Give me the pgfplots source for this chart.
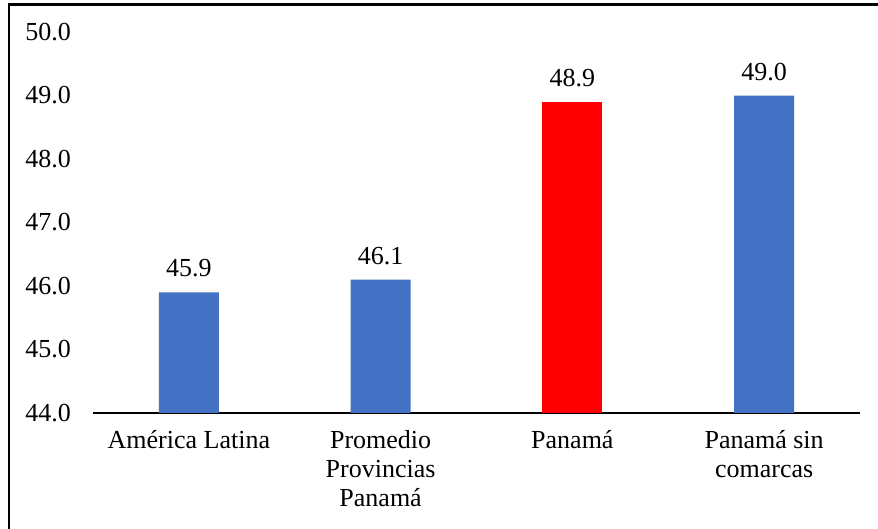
\documentclass[border=0pt]{standalone}
\usepackage{pgfplots}
\pgfplotsset{compat=1.18}
\usepackage{fontspec}
\setmainfont{Liberation Serif}
\definecolor{barblue}{HTML}{4472C4}
\definecolor{barred}{HTML}{FF0000}
\begin{document}
\fontsize{13}{14.5}\selectfont
\begin{tikzpicture}
\useasboundingbox (0,0) rectangle (439pt,264.5pt);
\fill[white] (0,0) rectangle (439pt,264.5pt);
% frame along the left and top edges
\draw[line width=1.1pt] (4.6pt,0) -- (4.6pt,262.2pt) -- (439pt,262.2pt);
\begin{axis}[
  at={(46.5pt,58pt)}, anchor=south west,
  scale only axis, width=383.5pt, height=190.5pt,
  xmin=-0.5, xmax=3.5, ymin=44, ymax=50,
  axis x line=bottom, axis y line=left,
  x axis line style={-, line width=0.9pt},
  y axis line style={draw=none},
  major tick length=0pt,
  xtick={0,1,2,3},
  xticklabels={Am\'erica Latina, {Promedio\\Provincias\\Panam\'a}, Panam\'a, {Panam\'a sin\\comarcas}},
  xticklabel style={align=center, anchor=north, yshift=-4pt, font=\fontsize{13}{14.5}\selectfont},
  ytick={44,45,46,47,48,49,50},
  yticklabel style={xshift=-6.5pt, font=\fontsize{13}{14.5}\selectfont},
  /pgf/number format/assume math mode=true,
  yticklabel={\pgfmathprintnumber[fixed,fixed zerofill,precision=1]{\tick}},
  ybar, bar width=30pt, bar shift=0pt,
  nodes near coords={\pgfmathprintnumber[fixed,fixed zerofill,precision=1]{\pgfplotspointmeta}},
  nodes near coords style={font=\fontsize{13}{14.5}\selectfont, yshift=3pt, text=black},
  clip=false,
]
\addplot[draw=none, fill=barblue] coordinates {(0,45.9) (1,46.1) (3,49.0)};
\addplot[draw=none, fill=barred] coordinates {(2,48.9)};
\end{axis}
\end{tikzpicture}
\end{document}
